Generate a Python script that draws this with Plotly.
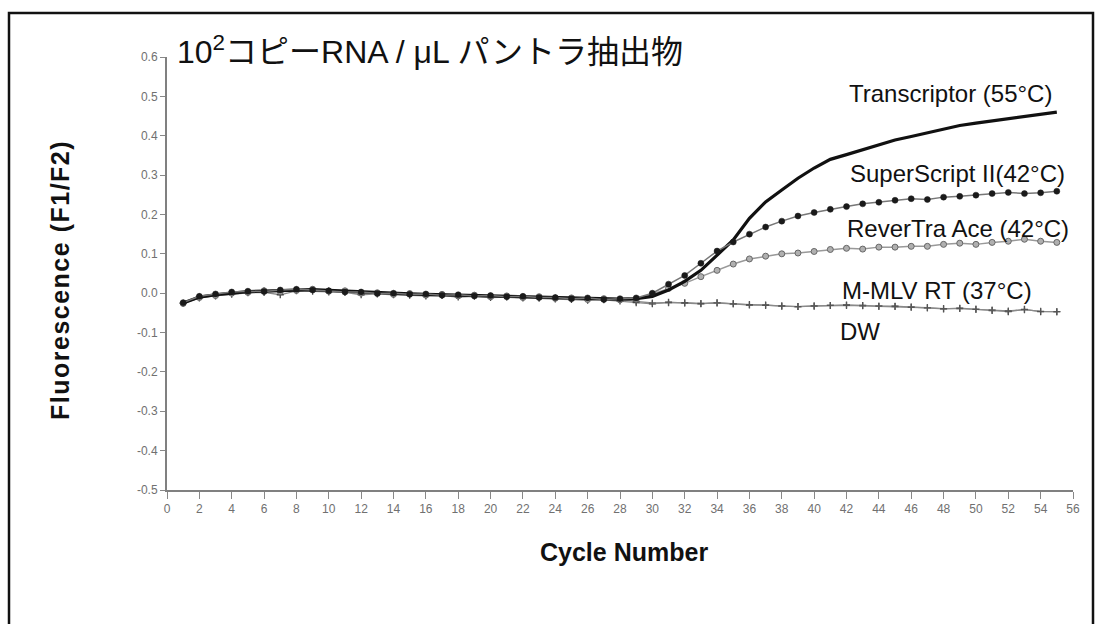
import plotly.graph_objects as go

cycles = list(range(1, 56))

transcriptor = [-0.025, -0.010, -0.004, 0.001, 0.004, 0.005, 0.006, 0.009, 0.009, 0.007,
                0.005, 0.002, 0.000, -0.001, -0.002, -0.003, -0.004, -0.005, -0.006, -0.007,
                -0.008, -0.009, -0.010, -0.012, -0.013, -0.014, -0.015, -0.015, -0.014, -0.008,
                0.008, 0.030, 0.058, 0.097, 0.135, 0.190, 0.232, 0.262, 0.292, 0.318,
                0.340, 0.352, 0.364, 0.378, 0.389, 0.398, 0.407, 0.418, 0.426, 0.432,
                0.438, 0.444, 0.450, 0.455, 0.460]

superscript = [-0.024, -0.008, -0.002, 0.003, 0.005, 0.004, 0.008, 0.010, 0.008, 0.006,
               0.003, 0.003, -0.001, 0.000, -0.003, -0.002, -0.005, -0.004, -0.007, -0.006,
               -0.009, -0.008, -0.011, -0.011, -0.014, -0.012, -0.016, -0.014, -0.012, 0.000,
               0.023, 0.045, 0.076, 0.107, 0.130, 0.150, 0.168, 0.183, 0.196, 0.205,
               0.213, 0.220, 0.227, 0.231, 0.236, 0.240, 0.238, 0.244, 0.246, 0.249,
               0.253, 0.256, 0.253, 0.255, 0.259]

revertra = [-0.026, -0.011, -0.006, 0.000, 0.002, 0.006, 0.004, 0.007, 0.010, 0.005,
            0.006, 0.000, 0.001, -0.003, -0.001, -0.005, -0.003, -0.007, -0.005, -0.009,
            -0.007, -0.011, -0.009, -0.013, -0.012, -0.016, -0.014, -0.017, -0.015, -0.002,
            0.012, 0.025, 0.042, 0.058, 0.074, 0.087, 0.094, 0.100, 0.102, 0.106,
            0.111, 0.114, 0.112, 0.117, 0.117, 0.119, 0.119, 0.124, 0.127, 0.124,
            0.129, 0.132, 0.137, 0.132, 0.129]

mmlv = [-0.025, -0.009, -0.005, 0.002, 0.003, 0.006, 0.005, 0.008, 0.008, 0.006,
        0.004, 0.001, -0.001, -0.002, -0.003, -0.004, -0.005, -0.006, -0.006, -0.008,
        -0.009, -0.010, -0.011, -0.012, -0.014, -0.015, -0.016, -0.016, -0.021, -0.025,
        -0.024, -0.024, -0.026, -0.025, -0.027, -0.029, -0.031, -0.032, -0.034, -0.032,
        -0.031, -0.031, -0.032, -0.033, -0.034, -0.036, -0.037, -0.039, -0.039, -0.041,
        -0.043, -0.045, -0.042, -0.046, -0.047]

dw = [-0.026, -0.012, -0.007, -0.003, 0.001, 0.002, -0.004, 0.006, 0.005, 0.003,
      0.002, -0.004, -0.002, -0.004, -0.005, -0.007, -0.006, -0.010, -0.008, -0.011,
      -0.010, -0.012, -0.013, -0.015, -0.016, -0.018, -0.017, -0.020, -0.024, -0.027,
      -0.023, -0.025, -0.027, -0.024, -0.027, -0.030, -0.030, -0.033, -0.034, -0.033,
      -0.031, -0.030, -0.031, -0.033, -0.033, -0.035, -0.037, -0.040, -0.038, -0.041,
      -0.044, -0.047, -0.041, -0.047, -0.047]

x_ticks = list(range(0, 57, 2))
y_ticks = [-0.5, -0.4, -0.3, -0.2, -0.1, 0.0, 0.1, 0.2, 0.3, 0.4, 0.5, 0.6]

title_text = "10<sup>2</sup>コピーRNA / μL パントラ抽出物"
series_labels = ["Transcriptor (55°C)", "SuperScript II(42°C)", "ReverTra Ace (42°C)",
                 "M-MLV RT (37°C)", "DW"]

# layout geometry (pixels)
W_FIG, H_FIG = 1101, 624
L, R, T, B = 167, 1073, 57, 490


def px(x):
    return (x - L) / (R - L)


def py(y):
    return (B - y) / (B - T)


FONT = "Liberation Sans, Arial, Noto Sans CJK JP, sans-serif"

fig = go.Figure()

fig.add_trace(go.Scatter(x=cycles, y=dw, mode="lines+markers",
                         line=dict(color="#8a8a8a", width=1.3),
                         marker=dict(symbol="cross-thin", size=5, line=dict(color="#444", width=1.3))))
fig.add_trace(go.Scatter(x=cycles, y=mmlv, mode="lines+markers",
                         line=dict(color="#8a8a8a", width=1.3),
                         marker=dict(symbol="cross-thin", size=5, line=dict(color="#555", width=1.2))))
fig.add_trace(go.Scatter(x=cycles, y=revertra, mode="lines+markers",
                         line=dict(color="#999999", width=1.5),
                         marker=dict(symbol="circle", size=6, color="#b0b0b0",
                                     line=dict(color="#666", width=1))))
fig.add_trace(go.Scatter(x=cycles, y=transcriptor, mode="lines",
                         line=dict(color="#111111", width=3.2)))
fig.add_trace(go.Scatter(x=cycles, y=superscript, mode="lines+markers",
                         line=dict(color="#777777", width=1.5),
                         marker=dict(symbol="circle", size=6, color="#1a1a1a",
                                     line=dict(color="#1a1a1a", width=0.5))))

annotations = [
    dict(text=title_text, x=px(175), y=py(50), xanchor="left", yanchor="middle",
         font=dict(size=32, color="#111", family=FONT)),
    dict(text="<b>Cycle Number</b>", x=px(624), y=py(552), xanchor="center", yanchor="middle",
         font=dict(size=25, color="#111", family=FONT)),
    dict(text="<b><span style='letter-spacing:1.5px'>Fluorescence (F1/F2)</span></b>",
         x=px(60), y=py(280), xanchor="center", yanchor="middle", textangle=-90,
         font=dict(size=25, color="#111", family=FONT)),
]
label_pos = [(847, 93), (848, 173), (845, 228), (840, 290), (838, 331)]
for lab, (lx, ly) in zip(series_labels, label_pos):
    annotations.append(dict(text=lab, x=px(lx), y=py(ly), xanchor="left", yanchor="middle",
                            font=dict(size=24, color="#111", family=FONT)))
for a in annotations:
    a.update(xref="paper", yref="paper", showarrow=False)

fig.update_layout(
    width=W_FIG, height=H_FIG,
    margin=dict(l=L, r=W_FIG - R, t=T, b=H_FIG - B),
    paper_bgcolor="white", plot_bgcolor="white",
    showlegend=False,
    annotations=annotations,
    shapes=[dict(type="rect", xref="paper", yref="paper",
                 x0=px(9), x1=px(1093), y0=py(700), y1=py(13),
                 line=dict(color="#111", width=2.5), fillcolor="rgba(0,0,0,0)", layer="below")],
)
fig.update_xaxes(range=[0, 56], tickmode="array", tickvals=x_ticks,
                 ticktext=[str(v) for v in x_ticks],
                 showgrid=False, zeroline=False, showline=True, linecolor="#808080", linewidth=2,
                 ticks="outside", ticklen=7, tickwidth=1, tickcolor="#888",
                 tickfont=dict(size=12, color="#707070", family=FONT))
fig.update_yaxes(range=[-0.5, 0.6], tickmode="array", tickvals=y_ticks,
                 ticktext=[f"{v:.1f}" for v in y_ticks],
                 showgrid=False, zeroline=False, showline=True, linecolor="#808080", linewidth=2,
                 ticks="outside", ticklen=5, tickwidth=1, tickcolor="#888",
                 tickfont=dict(size=12, color="#707070", family=FONT))

fig.write_html("out.html")
